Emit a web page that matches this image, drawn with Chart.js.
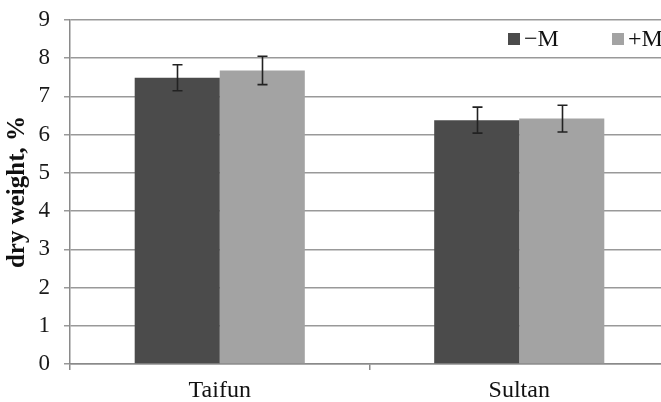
<!DOCTYPE html>
<html>
<head>
<meta charset="utf-8">
<script src="https://cdn.jsdelivr.net/npm/chart.js@4/dist/chart.umd.min.js"></script>
<style>
  html, body { margin: 0; padding: 0; background: #fff; overflow: hidden; }
  #wrap { position: absolute; left: 0; top: 0; width: 672px; height: 402px; }
</style>
</head>
<body>
<div id="wrap"><canvas id="c" width="672" height="402"></canvas></div>
<script>
// ---- data ----
const categories = ['Taifun', 'Sultan'];
const seriesLabels = ['\u2212M', '+M'];
const minusM = [7.49, 6.38];
const plusM = [7.68, 6.42];
const minusMErr = [0.34, 0.34];
const plusMErr = [0.37, 0.35];
const yTicks = [0, 1, 2, 3, 4, 5, 6, 7, 8, 9];

const FONT = '"Liberation Serif", "Times New Roman", serif';
const colors = ['#4b4b4b', '#a3a3a3'];
const errors = [minusMErr, plusMErr];

const errorBars = {
  id: 'errorBars',
  afterDatasetsDraw(chart) {
    const ctx = chart.ctx;
    const y = chart.scales.y;
    ctx.save();
    ctx.strokeStyle = '#222';
    ctx.lineWidth = 1.6;
    chart.data.datasets.forEach((ds, di) => {
      const meta = chart.getDatasetMeta(di);
      meta.data.forEach((bar, i) => {
        const v = ds.data[i], e = errors[di][i];
        const yTop = y.getPixelForValue(v + e);
        const yBot = y.getPixelForValue(v - e);
        const x = Math.round(bar.x) + 0.5;
        ctx.beginPath();
        ctx.moveTo(x, yTop); ctx.lineTo(x, yBot);
        ctx.moveTo(x - 5, yTop); ctx.lineTo(x + 5, yTop);
        ctx.moveTo(x - 5, yBot); ctx.lineTo(x + 5, yBot);
        ctx.stroke();
      });
    });
    ctx.restore();
  }
};

const innerLegend = {
  id: 'innerLegend',
  afterDraw(chart) {
    const ctx = chart.ctx;
    const a = chart.chartArea;
    const starts = [a.right - 161, a.right - 57];
    const cy = a.top + 19;
    ctx.save();
    ctx.font = '24px ' + FONT;
    ctx.textBaseline = 'middle';
    ctx.textAlign = 'left';
    chart.data.datasets.forEach((ds, i) => {
      const x = starts[i];
      ctx.fillStyle = ds.backgroundColor;
      ctx.fillRect(x, cy - 6, 12, 12);
      ctx.fillStyle = '#111';
      ctx.fillText(ds.label, x + 16, cy + 1);
    });
    ctx.restore();
  }
};

new Chart(document.getElementById('c'), {
  type: 'bar',
  data: {
    labels: categories,
    datasets: [
      { label: seriesLabels[0], data: minusM, backgroundColor: colors[0], borderWidth: 0 },
      { label: seriesLabels[1], data: plusM, backgroundColor: colors[1], borderWidth: 0 }
    ]
  },
  options: {
    responsive: false,
    animation: false,
    devicePixelRatio: 1,
    layout: { padding: { left: 0, top: 20, right: 3, bottom: 0 } },
    datasets: { bar: { categoryPercentage: 0.568, barPercentage: 1.0 } },
    plugins: {
      legend: { display: false },
      tooltip: { enabled: false }
    },
    scales: {
      x: {
        afterFit(s) { s.height = 38; },
        grid: { display: true, drawOnChartArea: false, drawTicks: true, tickLength: 6, color: '#8a8a8a', lineWidth: 1.5, offset: true },
        border: { color: '#8a8a8a', width: 1.5 },
        ticks: { color: '#111', font: { family: FONT, size: 24 }, padding: 6, maxRotation: 0 }
      },
      y: {
        min: 0, max: 9,
        afterFit(s) { s.width = 70; s.paddingTop = 10; s.paddingBottom = 10; },
        afterBuildTicks(s) { s.ticks = yTicks.map(v => ({ value: v })); },
        grid: { color: '#999', lineWidth: 1.5, tickLength: 6, drawTicks: true },
        border: { color: '#8a8a8a', width: 1.5 },
        ticks: { color: '#1a1a1a', font: { family: FONT, size: 23 }, padding: 14 },
        title: { display: true, text: 'dry weight, %', color: '#111', font: { family: FONT, size: 25, weight: 'bold' }, padding: { top: 3, bottom: 0 } }
      }
    }
  },
  plugins: [errorBars, innerLegend]
});
</script>
</body>
</html>
